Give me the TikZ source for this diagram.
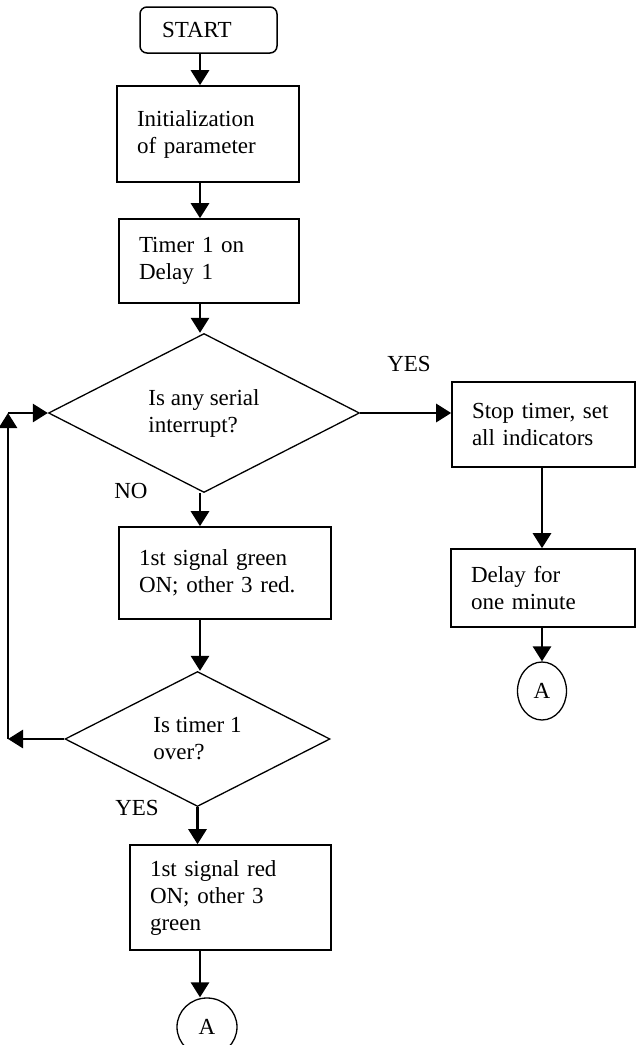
\documentclass[tikz,border=0pt]{standalone}
\usepackage{fontspec}
\setmainfont{Liberation Serif}
\usepackage{tikz}
\usetikzlibrary{shapes.geometric}
\usetikzlibrary{arrows.meta}
\tikzset{
  flownode/.style = {align=left, font=\fontsize{23}{27}\selectfont,
    inner ysep=0pt},
  start_node/.style = {flownode, rectangle, rounded corners=7pt, draw=black,
    line width=1.5pt, minimum height=46pt, text width=93pt, inner xsep=22pt},% terminal
  proc_box/.style = {flownode, rectangle, draw=black,
    line width=1.6pt, inner xsep=20pt},% processus
  decision/.style = {flownode, diamond, draw=black,
    line width=1.3pt, inner sep=0pt},% test
  conn_node/.style = {flownode, ellipse, draw=black, align=center,
    line width=1.3pt, inner sep=0pt},% renvoi
  flow_arrow/.style = {line width=2.8pt, -{Triangle[width=18pt,length=15pt]}},
  branch_label/.style = {font=\fontsize{23}{27}\selectfont, inner sep=0pt}
}
\begin{document}
\begin{tikzpicture}[x=1pt, y=-1pt]
      \useasboundingbox (0,0) rectangle (637,1045);
      \coordinate (axis) at (200,0);
      % colonne principale
      \node [start_node] (start) at (208.5,30) {START};
      \node [proc_box, text width=142pt, minimum height=96pt] (init) at (208,134) {Initialization\\of parameter};
      \node [proc_box, text width=140pt, minimum height=84pt] (timer) at (209,261) {Timer 1 on\\Delay 1};
      \node [decision, minimum width=311pt, minimum height=151pt] (serial) at (204,413) {Is any serial\\interrupt?};
      \node [proc_box, text width=172pt, minimum height=92pt] (green) at (225,573) {1st signal green\\ON; other 3 red.};
      \node [decision, minimum width=265pt, minimum height=135pt] (over) at (197.5,739) {Is timer 1\\over?};
      \node [proc_box, text width=161pt, minimum height=105pt] (red) at (230.5,897.5) {1st signal red\\ON; other 3\\green};
      \node [conn_node, minimum width=60pt, minimum height=58pt] (connB) at (207,1027) {A};
      % branche droite
      \node [proc_box, text width=143pt, minimum height=85pt] (stop) at (543.5,424.5) {Stop timer, set\\all indicators};
      \node [proc_box, text width=144pt, minimum height=78pt] (delay) at (543,588) {Delay for\\one minute};
      \node [conn_node, minimum width=49pt, minimum height=58pt] (connA) at (542,691) {A};
      % etiquettes
      \node [branch_label] (yes_serial) at (409,364) {YES};
      \node [branch_label] (no_serial) at (131,491) {NO};
      \node [branch_label] (yes_over) at (137,808) {YES};
      % fleches
      \draw [flow_arrow] (start.south -| axis) -- (init.north -| axis);
      \draw [flow_arrow] (init.south -| axis) -- (timer.north -| axis);
      \draw [flow_arrow] (timer.south -| axis) -- (serial.north -| axis);
      \draw [flow_arrow] (serial.south -| axis) -- (green.north -| axis);
      \draw [flow_arrow] (green.south -| axis) -- (over.north -| axis);
      \draw [flow_arrow] (over.south) -- (over.south |- red.north);
      \draw [flow_arrow] (red.south -| axis) -- (connB.north -| axis);
      \draw [flow_arrow] (serial.east) -- (serial.east -| stop.west);
      \draw [flow_arrow] (stop.south -| connA) -- (delay.north -| connA);
      \draw [flow_arrow] (delay.south -| connA) -- (connA.north);
      % boucle NO
      \coordinate (loop_bottom) at (8,739);
      \coordinate (loop_top) at (8,413);
      \draw [flow_arrow] (over.west) -- (loop_bottom);
      \draw [flow_arrow] (loop_bottom) -- (loop_top);
      \draw [flow_arrow] (loop_top) -- (serial.west);
    \end{tikzpicture}
\end{document}
